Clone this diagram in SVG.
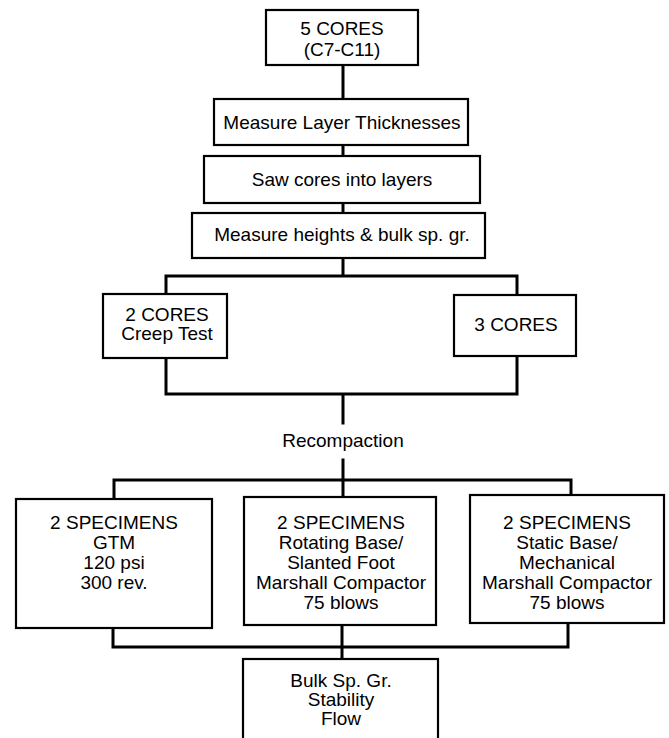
<svg xmlns="http://www.w3.org/2000/svg" width="669" height="738" viewBox="0 0 669 738">
<style>
  .box { fill: #fff; stroke: #000; stroke-width: 2.2; }
  .ln { fill: none; stroke: #000; stroke-width: 3; stroke-linejoin: miter; stroke-linecap: square; }
  text { font-family: "Liberation Sans", Arial, sans-serif; font-size: 19px; fill: #000; text-anchor: middle; }
</style>
<rect width="669" height="738" fill="#fff"/>
<g id="connectors">
  <path class="ln" d="M343 65 V99"/>
  <path class="ln" d="M343 145 V156"/>
  <path class="ln" d="M343 203 V213"/>
  <path class="ln" d="M343 258 V276 M166 294 V276 H517 V295"/>
  <path class="ln" d="M166 358 V394 H517 V356 M343 394 V423"/>
  <path class="ln" d="M343 460 V480 M114 499 V480 H571 V495 M343 480 V497"/>
  <path class="ln" d="M113 628 V647 H568 V623 M342 625 V659"/>
</g>
<g id="n1"><rect class="box" x="266" y="10" width="152" height="55"/><text x="342" y="35">5 CORES</text><text x="342" y="56">(C7-C11)</text></g>
<g id="n2"><rect class="box" x="214" y="99" width="254" height="46"/><text x="342" y="129">Measure Layer Thicknesses</text></g>
<g id="n3"><rect class="box" x="204" y="156" width="276" height="47"/><text x="342" y="186">Saw cores into layers</text></g>
<g id="n4"><rect class="box" x="192" y="213" width="293" height="45"/><text x="342" y="241">Measure heights &amp; bulk sp. gr.</text></g>
<g id="n5"><rect class="box" x="103" y="294" width="124" height="64"/><text x="167" y="321">2 CORES</text><text x="167" y="340">Creep Test</text></g>
<g id="n6"><rect class="box" x="454" y="295" width="122" height="61"/><text x="516" y="331">3 CORES</text></g>
<g id="n7"><text x="343" y="447">Recompaction</text></g>
<g id="n8"><rect class="box" x="16" y="499" width="196" height="129"/><text x="114" y="529">2 SPECIMENS</text><text x="114" y="549">GTM</text><text x="114" y="569">120 psi</text><text x="114" y="589">300 rev.</text></g>
<g id="n9"><rect class="box" x="244" y="497" width="192" height="128"/><text x="341" y="529">2 SPECIMENS</text><text x="341" y="549">Rotating Base/</text><text x="341" y="569">Slanted Foot</text><text x="341" y="589">Marshall Compactor</text><text x="341" y="609">75 blows</text></g>
<g id="n10"><rect class="box" x="470" y="495" width="194" height="128"/><text x="567" y="529">2 SPECIMENS</text><text x="567" y="549">Static Base/</text><text x="567" y="569">Mechanical</text><text x="567" y="589">Marshall Compactor</text><text x="567" y="609">75 blows</text></g>
<g id="n11"><rect class="box" x="243" y="659" width="195" height="90"/><text x="341" y="687">Bulk Sp. Gr.</text><text x="341" y="706">Stability</text><text x="341" y="725">Flow</text></g>
</svg>
